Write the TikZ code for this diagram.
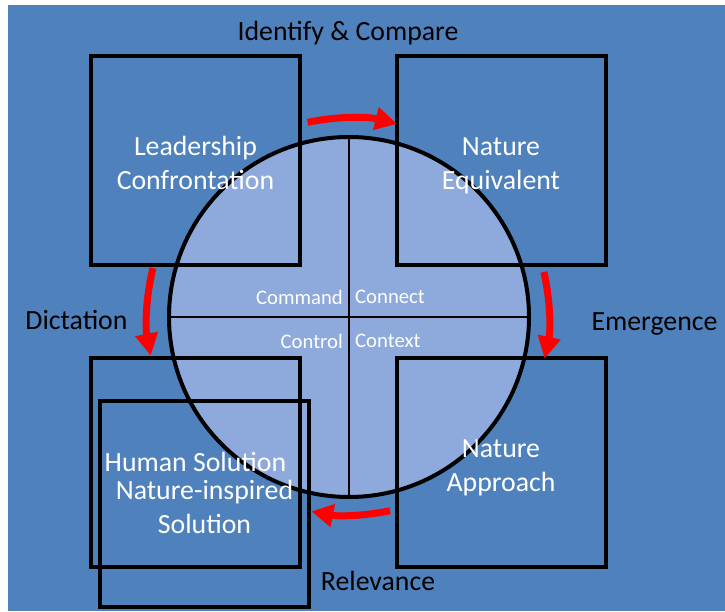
\documentclass[tikz,border=0pt]{standalone}
\usepackage{fontspec}
\setmainfont{Carlito}
\usetikzlibrary{arrows.meta}
\definecolor{bgblue}{HTML}{4F81BD}
\definecolor{hubblue}{HTML}{8EA9DB}
% struts for the lines of the big texts
\newcommand{\ls}{\rule[-5pt]{0pt}{28.5pt}}
\newcommand{\lt}{\rule{0pt}{30pt}}

\begin{document}
\begin{tikzpicture}[x=1pt, y=1pt,
    quad/.style={draw, line width=4pt, minimum size=209pt, inner sep=0pt, align=center, text=white,
      font=\fontsize{27.8}{34}\selectfont},
    hub/.style={circle, draw, line width=4pt, fill=hubblue, minimum size=360pt, inner sep=0pt},
    tag/.style={inner sep=0pt, font=\fontsize{27.8}{34}\selectfont},
    small/.style={text=white, inner sep=0pt, font=\fontsize{20.7}{24}\selectfont},
    flow/.style={red, line width=7pt, -{Triangle[length=22pt, width=22pt]}}]

    \useasboundingbox (0,0) rectangle (725,611);
    \fill[bgblue] (8,0) rectangle (725,606);

    % centre circle and its quarters
    \node[hub] (o) at (349,294) {};
    \draw[line width=1.5pt] (o.north) -- (o.south);
    \draw[line width=1.5pt] (o.west) -- (o.east);

    \node[small, anchor=east] (cmd) at (343,314) {Command};
    \node[small, anchor=west] (cnn) at (355,314) {Connect};
    \node[small, anchor=east] (ctl) at (343,270) {Control};
    \node[small, anchor=west] (ctx) at (355,270) {Context};

    % the four boxes
    \node[quad] (lc) at (195.5,450.5) {\lt Leadership\\\ls Confrontation};
    \node[quad] (ne) at (501,450.5) {\lt Nature\\\ls Equivalent};
    \node[quad] (hs) at (195.5,149) {\ls Human Solution};
    \node[quad] (na) at (501,149) {\lt Nature\\\ls Approach};
    \node[quad, minimum height=206pt] (ns) at (204.5,107) {\lt Nature-inspired\\\ls Solution};

    % outer labels
    \node[tag] (ic) at (348,580) {\ls Identify \& Compare};
    \node[tag] (di) at (76.5,291) {\ls Dictation};
    \node[tag] (em) at (654.5,290) {\ls Emergence};
    \node[tag] (re) at (378,30) {\ls Relevance};

    % red cycle arrows
    \draw[flow] ([shift={(102:199pt)}]o.center) arc[start angle=102, end angle=76, radius=199pt];
    \draw[flow] ([shift={(13:200pt)}]o.center) arc[start angle=13, end angle=-12, radius=200pt];
    \draw[flow] ([shift={(-78:198pt)}]o.center) arc[start angle=-78, end angle=-101, radius=198pt];
    \draw[flow] ([shift={(166:202pt)}]o.center) arc[start angle=166, end angle=191, radius=202pt];

\end{tikzpicture}
\end{document}
